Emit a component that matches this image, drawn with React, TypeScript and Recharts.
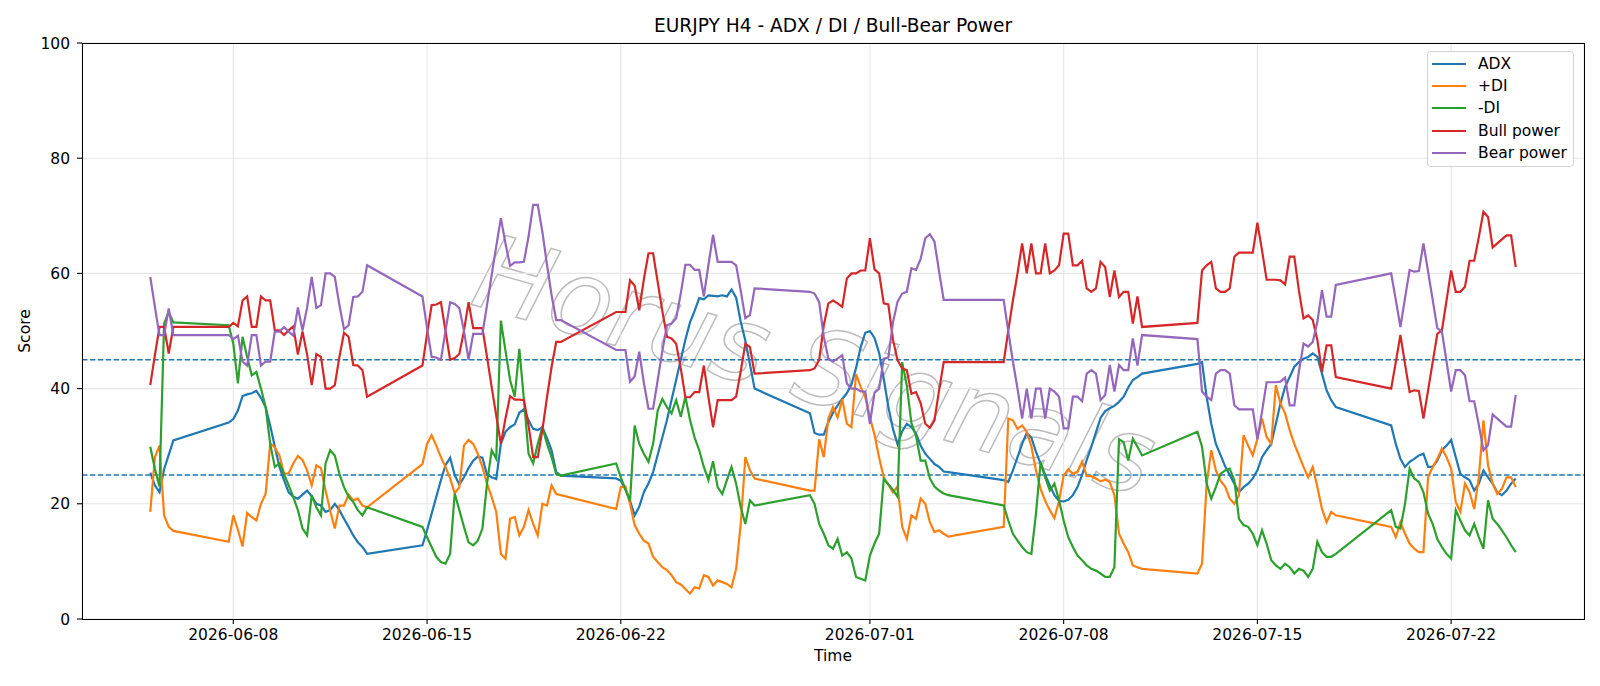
import React from "react";
import {
  LineChart,
  Line,
  XAxis,
  YAxis,
  CartesianGrid,
  ReferenceLine,
} from "recharts";

// H4 sessions: first bar of each block and number of 4h bars in it
const sessions: [string, number][] = [
  ["2026-06-05T00:00:00Z", 6],
  ["2026-06-07T20:00:00Z", 31],
  ["2026-06-14T20:00:00Z", 31],
  ["2026-06-21T20:00:00Z", 31],
  ["2026-06-28T20:00:00Z", 31],
  ["2026-07-05T20:00:00Z", 31],
  ["2026-07-12T20:00:00Z", 31],
  ["2026-07-19T20:00:00Z", 28],
];

const tickDates = [
  "2026-06-08",
  "2026-06-15",
  "2026-06-22",
  "2026-07-01",
  "2026-07-08",
  "2026-07-15",
  "2026-07-22",
];

const adx = [
  25.4, 23.2, 22.0, 26.0, 28.5, 31.0,
  34.1, 34.7, 36.2, 38.7, 39.0, 39.2, 39.6, 38.4, 36.8, 33.6, 29.9, 26.4, 24.1, 22.0, 21.2, 20.9, 21.6, 22.3, 21.3, 20.0, 19.7, 18.6, 18.9, 20.0, 18.9, 17.4, 16.0, 14.5, 13.3, 12.5, 11.3,
  12.8, 15.4, 18.3, 21.2, 24.1, 26.7, 28.0, 25.0, 23.3, 24.6, 26.2, 27.5, 28.2, 28.0, 25.1, 24.6, 24.3, 30.4, 32.5, 33.3, 33.8, 35.8, 36.4, 34.5, 33.0, 32.8, 33.3, 31.4, 29.3, 25.5, 24.9,
  24.4, 24.0, 22.5, 20.5, 18.0, 19.5, 22.0, 23.5, 25.5, 28.5, 31.5, 34.5, 38.0, 41.5, 45.0, 48.5, 51.5, 53.5, 55.7, 55.5, 56.2, 56.1, 56.0, 56.2, 56.0, 57.2, 55.8, 51.6, 48.3, 44.2, 40.0,
  35.7, 32.3, 32.0, 32.0, 34.2, 35.8, 37.1, 38.2, 39.2, 40.7, 43.6, 47.2, 49.7, 50.0, 48.8, 46.2, 41.7, 36.8, 33.0, 30.3, 32.6, 33.9, 33.3, 32.2, 30.1, 28.7, 27.8, 26.9, 26.4, 25.6, 25.5,
  24.1, 23.8, 25.8, 28.1, 30.4, 32.3, 31.5, 29.0, 27.0, 25.0, 23.2, 21.5, 20.5, 20.4, 20.7, 21.5, 22.9, 25.0, 27.6, 29.9, 32.4, 34.9, 36.1, 36.6, 37.0, 37.7, 38.6, 40.2, 41.5, 42.0, 42.6,
  44.3, 44.6, 38.5, 33.9, 30.4, 28.5, 26.5, 25.0, 23.5, 22.0, 22.9, 23.5, 24.4, 25.8, 28.1, 29.3, 30.4, 33.9, 37.4, 40.3, 42.0, 43.8, 44.6, 45.2, 45.5, 46.1, 45.5, 42.6, 39.7, 38.0, 36.8,
  33.6, 30.4, 27.8, 26.4, 27.3, 27.8, 28.4, 28.7, 26.4, 26.4, 27.5, 29.3, 30.1, 31.1, 28.1, 25.2, 24.6, 24.1, 22.3, 23.5, 25.8, 24.6, 23.5, 22.0, 21.5, 22.3, 23.5, 24.4,
];

const plusDi = [
  18.6, 28.1, 30.1, 18.0, 16.0, 15.3,
  13.4, 18.0, 15.5, 12.6, 18.4, 17.7, 17.1, 20.0, 21.7, 30.5, 29.8, 28.4, 25.2, 25.3, 27.0, 28.3, 27.6, 25.8, 23.2, 26.7, 26.2, 22.3, 18.8, 15.7, 19.7, 19.7, 21.6, 20.6, 20.9, 19.7, 19.4,
  26.9, 30.4, 31.9, 30.1, 28.1, 26.4, 24.4, 21.8, 22.9, 30.1, 31.1, 30.4, 28.7, 26.4, 23.5, 21.2, 18.6, 11.3, 10.5, 17.4, 17.7, 14.5, 16.0, 18.9, 16.5, 14.5, 20.0, 19.7, 23.2, 21.7, 21.5,
  19.1, 22.9, 23.0, 20.0, 16.3, 14.8, 13.6, 13.1, 10.8, 9.9, 9.0, 8.5, 7.6, 6.4, 6.0, 5.2, 4.4, 5.5, 5.3, 7.6, 7.3, 5.8, 6.7, 6.4, 6.1, 5.5, 8.7, 16.5, 28.1, 25.8, 24.4,
  22.3, 22.3, 31.2, 28.1, 34.8, 36.8, 35.0, 38.2, 33.9, 33.3, 42.5, 40.3, 38.5, 35.0, 32.0, 28.0, 24.6, 23.3, 22.0, 23.0, 16.0, 13.9, 18.0, 17.4, 20.9, 20.0, 16.8, 15.1, 15.4, 14.8, 14.3,
  16.0, 34.8, 34.5, 33.0, 33.6, 32.5, 30.0, 25.8, 22.6, 20.5, 18.9, 17.5, 20.5, 24.9, 26.0, 25.2, 25.6, 27.3, 24.8, 24.8, 24.4, 23.9, 24.2, 23.8, 21.5, 14.8, 13.1, 11.6, 9.3, 9.0, 8.7,
  7.9, 9.6, 23.5, 29.3, 25.8, 24.0, 23.0, 20.9, 20.0, 21.5, 31.9, 30.1, 28.4, 31.3, 34.8, 31.6, 30.4, 40.6, 37.4, 35.7, 32.8, 30.4, 28.4, 26.4, 24.6, 26.4, 22.9, 19.1, 16.8, 18.6, 18.0,
  16.0, 14.2, 16.8, 14.8, 13.1, 12.2, 11.6, 11.6, 24.6, 26.4, 27.8, 29.6, 28.1, 26.1, 20.3, 18.6, 23.5, 22.0, 19.1, 24.6, 34.5, 26.7, 23.5, 21.7, 22.6, 24.6, 24.6, 22.9,
];

const minusDi = [
  29.9, 26.1, 23.0, 51.3, 53.3, 51.5,
  51.0, 47.8, 40.9, 49.0, 45.5, 42.3, 42.9, 40.0, 36.8, 30.4, 26.4, 27.0, 25.2, 23.2, 21.2, 18.9, 15.7, 14.5, 21.5, 19.4, 18.0, 27.0, 29.3, 28.4, 25.2, 22.9, 21.2, 20.3, 18.9, 18.0, 19.4,
  16.0, 14.2, 12.5, 10.8, 9.9, 9.6, 11.3, 21.8, 18.9, 16.0, 13.3, 12.8, 13.6, 15.7, 23.5, 29.3, 27.8, 51.8, 46.6, 41.5, 38.6, 46.9, 38.1, 28.7, 27.0, 30.4, 33.3, 30.4, 28.1, 25.2, 24.9,
  27.0, 24.6, 22.5, 20.5, 33.6, 30.4, 28.7, 27.3, 30.4, 36.2, 38.2, 36.8, 35.7, 38.0, 35.1, 38.6, 34.6, 31.5, 29.3, 26.4, 24.1, 27.4, 22.9, 21.7, 24.1, 26.4, 23.5, 19.4, 16.5, 20.6, 19.7,
  21.5, 20.0, 16.5, 14.8, 12.8, 12.2, 13.9, 11.0, 11.6, 10.5, 7.3, 7.0, 6.7, 11.0, 13.1, 14.8, 24.3, 23.4, 22.4, 21.2, 44.6, 40.5, 34.0, 31.8, 27.5, 27.5, 24.4, 23.0, 22.3, 21.8, 21.5,
  19.7, 17.1, 14.8, 13.6, 12.5, 11.6, 11.3, 18.3, 27.2, 24.6, 22.3, 23.5, 20.6, 17.1, 14.2, 12.5, 11.0, 10.2, 9.3, 8.7, 8.4, 7.9, 7.3, 7.3, 9.0, 31.2, 30.7, 27.5, 31.3, 29.9, 28.4,
  32.5, 29.9, 23.5, 20.9, 22.9, 25.2, 25.8, 26.1, 24.1, 17.4, 16.3, 16.0, 14.8, 12.8, 15.4, 13.1, 10.2, 9.3, 8.7, 9.6, 9.0, 7.9, 8.7, 8.4, 7.3, 8.7, 13.4, 11.6, 10.8, 10.8, 11.3,
  18.9, 16.0, 15.7, 20.0, 26.1, 24.4, 23.8, 22.0, 18.3, 16.5, 13.9, 12.5, 11.3, 10.5, 18.9, 17.1, 15.4, 14.5, 16.5, 14.2, 12.2, 20.6, 17.4, 16.5, 15.4, 14.2, 12.8, 11.6,
];

const bullPower = [
  40.6, 45.8, 50.7, 50.7, 46.1, 50.7,
  50.7, 51.4, 50.8, 55.3, 56.0, 50.7, 50.7, 56.0, 55.3, 55.3, 50.1, 50.1, 49.3, 50.1, 50.8, 45.9, 49.9, 45.9, 40.6, 46.0, 45.5, 40.0, 40.0, 40.6, 45.5, 49.7, 49.0, 44.1, 44.0, 43.2, 38.6,
  44.0, 49.5, 54.5, 54.6, 55.0, 50.0, 45.0, 45.3, 46.0, 50.0, 55.0, 50.5, 50.5, 50.5, 45.5, 40.3, 35.3, 30.4, 34.8, 38.7, 38.1, 38.1, 38.0, 33.6, 28.1, 28.1, 32.8, 38.5, 43.8, 48.1, 48.1,
  53.3, 53.3, 53.3, 58.8, 57.9, 53.6, 59.0, 63.5, 63.5, 58.5, 53.5, 49.0, 48.7, 47.8, 43.5, 38.5, 38.5, 39.4, 39.4, 44.0, 38.5, 33.3, 38.0, 38.0, 38.0, 38.0, 38.6, 43.0, 47.8, 47.2, 42.6,
  43.2, 43.5, 45.0, 51.0, 54.8, 55.3, 54.8, 54.2, 59.1, 60.0, 60.0, 60.5, 60.5, 66.1, 60.7, 60.0, 54.8, 54.6, 48.5, 44.9, 43.5, 43.2, 39.1, 39.4, 37.5, 33.9, 33.2, 34.5, 39.7, 44.6, 44.6,
  44.6, 50.1, 55.3, 60.0, 65.2, 60.0, 65.2, 60.0, 60.0, 65.2, 60.0, 60.5, 61.4, 66.9, 66.9, 61.4, 61.4, 62.2, 57.4, 56.8, 57.4, 62.0, 61.1, 55.9, 60.5, 55.9, 56.8, 56.8, 51.3, 56.0, 50.7,
  51.4, 60.5, 61.4, 62.0, 57.4, 56.8, 56.8, 57.4, 62.9, 63.6, 63.6, 63.6, 63.6, 68.8, 64.0, 58.9, 58.9, 58.9, 58.8, 58.1, 62.9, 62.9, 57.0, 52.2, 52.7, 51.9, 48.4, 42.9, 47.5, 47.5, 42.0,
  40.0, 44.6, 49.3, 44.3, 39.4, 39.7, 39.6, 34.8, 39.7, 44.6, 49.5, 50.1, 55.3, 60.5, 56.8, 56.8, 57.7, 62.2, 62.2, 66.3, 70.7, 69.8, 64.5, 65.2, 65.9, 66.6, 66.6, 61.1,
];

const bearPower = [
  59.4, 54.2, 49.3, 49.3, 53.9, 49.3,
  49.3, 48.6, 49.2, 44.7, 44.0, 49.3, 49.3, 44.0, 44.7, 44.7, 49.9, 49.9, 50.7, 49.9, 49.2, 54.1, 50.1, 54.1, 59.4, 54.0, 54.5, 60.0, 60.0, 59.4, 54.5, 50.3, 51.0, 55.9, 56.0, 56.8, 61.4,
  56.0, 50.5, 45.5, 45.4, 45.0, 50.0, 55.0, 54.7, 54.0, 50.0, 45.0, 49.5, 49.5, 49.5, 54.5, 59.7, 64.7, 69.6, 65.2, 61.3, 61.9, 61.9, 62.0, 66.4, 71.9, 71.9, 67.2, 61.5, 56.2, 51.9, 51.9,
  46.7, 46.7, 46.7, 41.2, 42.1, 46.4, 41.0, 36.5, 36.5, 41.5, 46.5, 51.0, 51.3, 52.2, 56.5, 61.5, 61.5, 60.6, 60.6, 56.0, 61.5, 66.7, 62.0, 62.0, 62.0, 62.0, 61.4, 57.0, 52.2, 52.8, 57.4,
  56.8, 56.5, 55.0, 49.0, 45.2, 44.7, 45.2, 45.8, 40.9, 40.0, 40.0, 39.5, 39.5, 33.9, 39.3, 40.0, 45.2, 45.4, 51.5, 55.1, 56.5, 56.8, 60.9, 60.6, 62.5, 66.1, 66.8, 65.5, 60.3, 55.4, 55.4,
  55.4, 49.9, 44.7, 40.0, 34.8, 40.0, 34.8, 40.0, 40.0, 34.8, 40.0, 39.5, 38.6, 33.1, 33.1, 38.6, 38.6, 37.8, 42.6, 43.2, 42.6, 38.0, 38.9, 44.1, 39.5, 44.1, 43.2, 43.2, 48.7, 44.0, 49.3,
  48.6, 39.5, 38.6, 38.0, 42.6, 43.2, 43.2, 42.6, 37.1, 36.4, 36.4, 36.4, 36.4, 31.2, 36.0, 41.1, 41.1, 41.1, 41.2, 41.9, 37.1, 37.1, 43.0, 47.8, 47.3, 48.1, 51.6, 57.1, 52.5, 52.5, 58.0,
  60.0, 55.4, 50.7, 55.7, 60.6, 60.3, 60.4, 65.2, 60.3, 55.4, 50.5, 49.9, 44.7, 39.5, 43.2, 43.2, 42.3, 37.8, 37.8, 33.7, 29.3, 30.2, 35.5, 34.8, 34.1, 33.4, 33.4, 38.9,
];

const series = [
  { key: "adx", name: "ADX", color: "#1f77b4" },
  { key: "plusDi", name: "+DI", color: "#ff7f0e" },
  { key: "minusDi", name: "-DI", color: "#2ca02c" },
  { key: "bull", name: "Bull power", color: "#d62728" },
  { key: "bear", name: "Bear power", color: "#9467bd" },
];

const H4 = 4 * 3600 * 1000;

// timestamps for every bar
const times: number[] = [];
sessions.forEach(([start, n]) => {
  const t0 = Date.parse(start);
  for (let i = 0; i < n; i++) times.push(t0 + i * H4);
});

const rows = times.map((t, i) => ({
  t,
  adx: adx[i],
  plusDi: plusDi[i],
  minusDi: minusDi[i],
  bull: bullPower[i],
  bear: bearPower[i],
}));

// matplotlib style 5% padding on x
const tMin = times[0];
const tMax = times[times.length - 1];
const pad = (tMax - tMin) * 0.05;
const xTicks = tickDates.map((d) => Date.parse(d + "T00:00:00Z"));

const FONT = "'DejaVu Sans', sans-serif";

export default function App() {
  return (
    <div
      style={{
        position: "absolute",
        left: 0,
        top: 0,
        width: 1600,
        height: 686,
        background: "#fff",
        fontFamily: FONT,
        overflow: "hidden",
      }}
    >
      {/* title, axis labels, watermark */}
      <svg width={1600} height={686} style={{ position: "absolute", left: 0, top: 0 }}>
        <text
          x={805}
          y={400}
          transform="rotate(16 805 400)"
          textAnchor="middle"
          fontSize={104}
          fontStyle="italic"
          fontFamily={FONT}
          fill="none"
          stroke="#bcbcbc"
          strokeWidth={1.5}
          textLength={700}
          lengthAdjust="spacingAndGlyphs"
        >
          Horus Signals
        </text>
        <text x={833} y={32} textAnchor="middle" fontSize={18.6} fill="#000">
          EURJPY H4 - ADX / DI / Bull-Bear Power
        </text>
        <text x={833} y={661} textAnchor="middle" fontSize={15.5} fill="#000">
          Time
        </text>
        <text
          x={30}
          y={331}
          transform="rotate(-90 30 331)"
          textAnchor="middle"
          fontSize={15.5}
          fill="#000"
        >
          Score
        </text>
      </svg>

      <div style={{ position: "absolute", left: 0, top: 0 }}>
        <LineChart
          width={1600}
          height={686}
          data={rows}
          margin={{ top: 43, right: 16, left: 0, bottom: 0 }}
        >
          <CartesianGrid stroke="#e6e6e6" strokeWidth={1.1} />
          <XAxis
            dataKey="t"
            type="number"
            scale="linear"
            domain={[tMin - pad, tMax + pad]}
            ticks={xTicks}
            tickFormatter={(v: number) => new Date(v).toISOString().slice(0, 10)}
            height={67}
            axisLine={false}
            tickLine={{ stroke: "#000", strokeWidth: 1.1 }}
            tickSize={5}
            tickMargin={5}
            tick={{ fontSize: 15.5, fill: "#000" }}
          />
          <YAxis
            type="number"
            domain={[0, 100]}
            ticks={[0, 20, 40, 60, 80, 100]}
            width={82}
            axisLine={false}
            tickLine={{ stroke: "#000", strokeWidth: 1.1 }}
            tickSize={5}
            tickMargin={7}
            tick={{ fontSize: 15.5, fill: "#000" }}
          />
          <ReferenceLine y={45} stroke="#1f77b4" strokeWidth={1.4} strokeDasharray="5.5 2.4" />
          <ReferenceLine y={25} stroke="#1f77b4" strokeWidth={1.4} strokeDasharray="5.5 2.4" />
          {series.map((s) => (
            <Line
              key={s.key}
              type="linear"
              dataKey={s.key}
              name={s.name}
              stroke={s.color}
              strokeWidth={2.2}
              dot={false}
              activeDot={false}
              isAnimationActive={false}
            />
          ))}
        </LineChart>
      </div>

      {/* axes frame */}
      <div
        style={{
          position: "absolute",
          left: 81.5,
          top: 42.5,
          width: 1503,
          height: 577,
          border: "1.2px solid #000",
          boxSizing: "border-box",
          pointerEvents: "none",
        }}
      />

      {/* legend */}
      <div
        style={{
          position: "absolute",
          left: 1427,
          top: 51,
          width: 147,
          height: 116,
          border: "1px solid #d3d3d3",
          borderRadius: 4,
          background: "rgba(255,255,255,0.85)",
          boxSizing: "border-box",
        }}
      >
        {series.map((s, i) => (
          <div
            key={s.key}
            style={{
              position: "absolute",
              left: 4,
              top: 12 + i * 22.2 - 10,
              height: 20,
              display: "flex",
              alignItems: "center",
              whiteSpace: "nowrap",
            }}
          >
            <div style={{ width: 34, height: 2.2, background: s.color, marginRight: 12 }} />
            <span style={{ fontSize: 15.5, color: "#000" }}>{s.name}</span>
          </div>
        ))}
      </div>
    </div>
  );
}
